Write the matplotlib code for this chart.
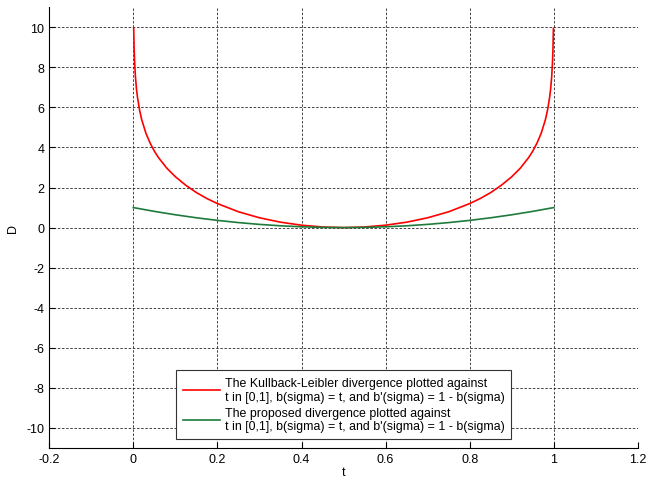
import matplotlib
matplotlib.use('Agg')
import matplotlib.pyplot as plt

plt.rcParams['font.family'] = ['Liberation Sans', 'DejaVu Sans']
plt.rcParams['font.size'] = 9
plt.rcParams['axes.unicode_minus'] = False

# values
t = [0.001, 0.002, 0.003, 0.005, 0.0075, 0.01, 0.015, 0.02, 0.03, 0.04, 0.05,
     0.06, 0.08, 0.1, 0.125, 0.15, 0.175, 0.2, 0.25, 0.3, 0.35, 0.4, 0.45, 0.5,
     0.55, 0.6, 0.65, 0.7, 0.75, 0.8, 0.825, 0.85, 0.875, 0.9, 0.92, 0.94,
     0.95, 0.96, 0.97, 0.98, 0.985, 0.99, 0.9925, 0.995, 0.997, 0.998, 0.999]
kl = [9.94, 8.93, 8.33, 7.56, 6.94, 6.50, 5.86, 5.39, 4.71, 4.22, 3.82,
      3.49, 2.96, 2.54, 2.11, 1.75, 1.45, 1.20, 0.79, 0.49, 0.27, 0.12, 0.03, 0.0,
      0.03, 0.12, 0.27, 0.49, 0.79, 1.20, 1.45, 1.75, 2.11, 2.54, 2.96, 3.49,
      3.82, 4.22, 4.71, 5.39, 5.86, 6.50, 6.94, 7.56, 8.33, 8.93, 9.94]

t2 = [0.0, 0.05, 0.1, 0.15, 0.2, 0.25, 0.3, 0.35, 0.4, 0.45, 0.5,
      0.55, 0.6, 0.65, 0.7, 0.75, 0.8, 0.85, 0.9, 0.95, 1.0]
prop = [1.0, 0.81, 0.64, 0.49, 0.36, 0.25, 0.16, 0.09, 0.04, 0.01, 0.0,
        0.01, 0.04, 0.09, 0.16, 0.25, 0.36, 0.49, 0.64, 0.81, 1.0]

label_kl = ('The Kullback-Leibler divergence plotted against\n'
            "t in [0,1], b(sigma) = t, and b'(sigma) = 1 - b(sigma)")
label_prop = ('The proposed divergence plotted against\n'
              "t in [0,1], b(sigma) = t, and b'(sigma) = 1 - b(sigma)")

fig = plt.figure(figsize=(6.47, 4.81), dpi=100)
ax = fig.add_axes([0.076, 0.0665, 0.91, 0.9165])

ax.plot(t, kl, color='#ff0000', lw=1.2, label=label_kl, zorder=3)
ax.plot(t2, prop, color='#1e7b3c', lw=1.2, label=label_prop, zorder=4)

ax.set_xlim(-0.2, 1.2)
ax.set_ylim(-11, 11)
ax.set_xticks([-0.2, 0, 0.2, 0.4, 0.6, 0.8, 1, 1.2])
ax.set_xticklabels(['-0.2', '0', '0.2', '0.4', '0.6', '0.8', '1', '1.2'])
ax.set_yticks(range(-10, 11, 2))
ax.set_xlabel('t', labelpad=1)
ax.set_ylabel('D', labelpad=5)

ax.grid(True, color='0.15', linestyle=(0, (3, 2)), linewidth=0.6)
ax.spines['top'].set_visible(False)
ax.spines['right'].set_visible(False)
ax.tick_params(direction='in', length=4, width=0.8)

leg = ax.legend(loc='lower center', bbox_to_anchor=(0.5, 0.02), fontsize=8.9,
                fancybox=False, edgecolor='0.2', framealpha=1, borderaxespad=0,
                handlelength=3.0, handletextpad=0.4, labelspacing=0.3,
                borderpad=0.55)
leg.get_frame().set_linewidth(0.8)

fig.savefig('out.png', dpi=100)
